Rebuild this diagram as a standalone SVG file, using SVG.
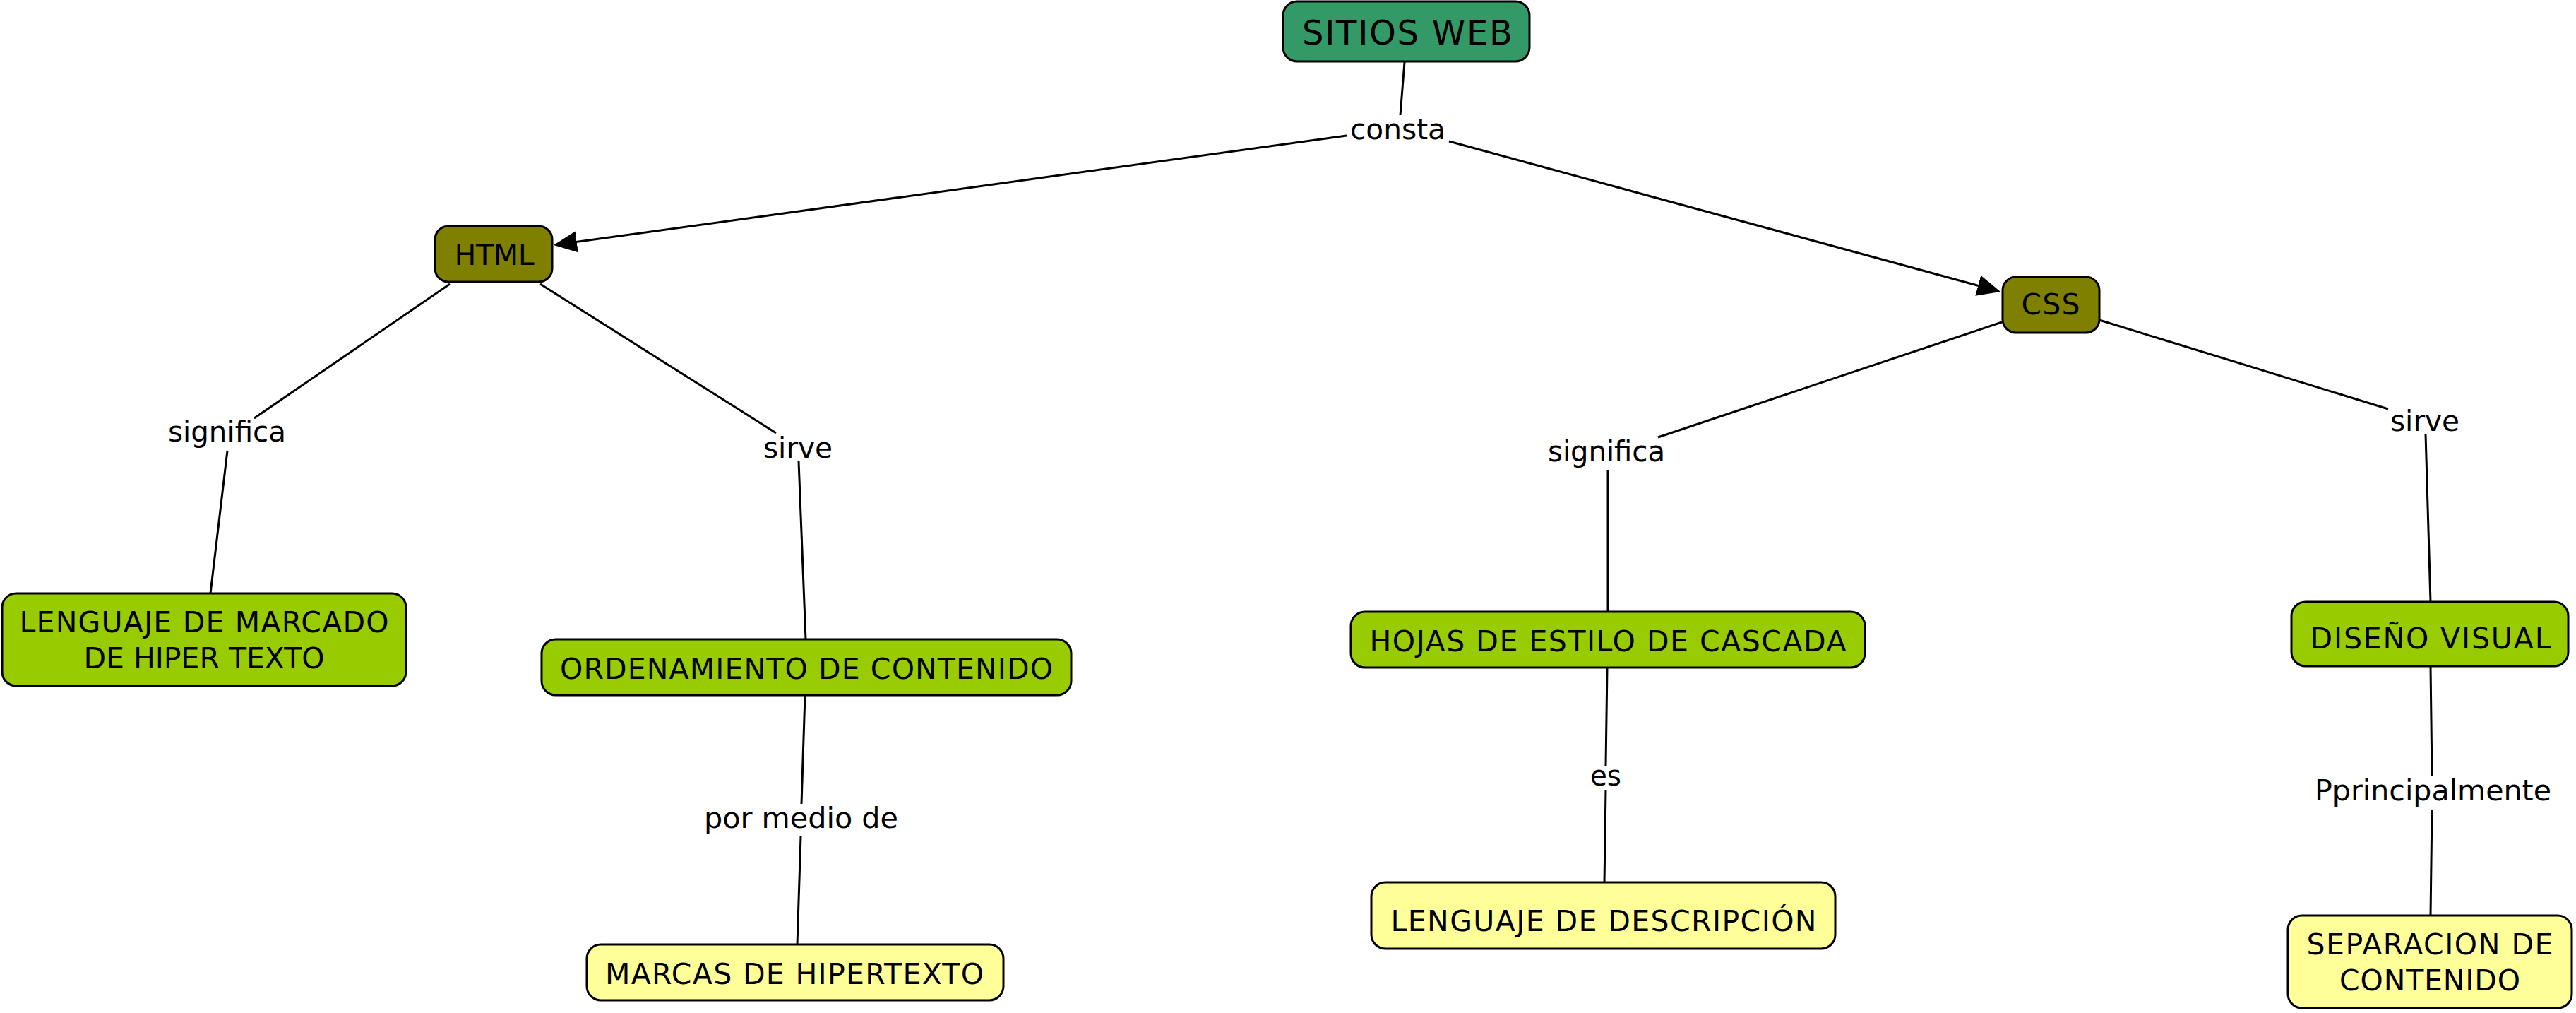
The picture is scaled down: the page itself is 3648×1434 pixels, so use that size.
<svg xmlns="http://www.w3.org/2000/svg" width="3648" height="1434" viewBox="0 0 3648 1434">
  <style>
    .node rect { stroke: #000; stroke-width: 3; }
    .root { fill: #339966; }
    .olive { fill: #808000; }
    .lime { fill: #99cc00; }
    .yellow { fill: #ffff99; }
    text { font-family: "DejaVu Sans", Verdana, sans-serif; fill: #000; text-anchor: middle; }
    .nt { font-size: 41px; }
    .title { font-size: 48px; }
    .lbl { font-size: 41px; }
    .conn line { stroke: #000; stroke-width: 3; fill: none; }
  </style>
  <defs>
    <marker id="arrow" markerUnits="userSpaceOnUse" markerWidth="34" markerHeight="32" refX="23" refY="15" orient="auto">
      <path d="M0,0 L33,15 L0,30 Z" fill="#000"/>
    </marker>
  </defs>
  <rect width="3648" height="1434" fill="#fff"/>

  <g id="connectors" class="conn">
    <line x1="1989" y1="88" x2="1983" y2="163"/>
    <line x1="1907" y1="192" x2="793.9" y2="345.6" marker-end="url(#arrow)"/>
    <line x1="2052" y1="200" x2="2823.4" y2="410.4" marker-end="url(#arrow)"/>
    <line x1="637" y1="402" x2="360" y2="592"/>
    <line x1="322" y1="638" x2="298" y2="840"/>
    <line x1="765" y1="402" x2="1099" y2="613"/>
    <line x1="1131" y1="653" x2="1141" y2="905"/>
    <line x1="1140" y1="984" x2="1135" y2="1138"/>
    <line x1="1134" y1="1184" x2="1129" y2="1337"/>
    <line x1="2835" y1="456" x2="2348" y2="619"/>
    <line x1="2277" y1="666" x2="2277" y2="866"/>
    <line x1="2276" y1="945" x2="2274" y2="1084"/>
    <line x1="2274" y1="1118" x2="2272" y2="1249"/>
    <line x1="2973" y1="453" x2="3382" y2="579"/>
    <line x1="3435" y1="614" x2="3442" y2="852"/>
    <line x1="3442" y1="943" x2="3444" y2="1099"/>
    <line x1="3444" y1="1146" x2="3442" y2="1296"/>
  </g>

  <g id="labels">
    <text class="lbl" x="1979.5" y="197" textLength="135" lengthAdjust="spacingAndGlyphs">consta</text>
    <text class="lbl" x="321.5" y="625" textLength="167" lengthAdjust="spacingAndGlyphs">significa</text>
    <text class="lbl" x="1130" y="648" textLength="98" lengthAdjust="spacingAndGlyphs">sirve</text>
    <text class="lbl" x="1134.5" y="1172" textLength="275" lengthAdjust="spacingAndGlyphs">por medio de</text>
    <text class="lbl" x="2275" y="653" textLength="166" lengthAdjust="spacingAndGlyphs">significa</text>
    <text class="lbl" x="2274" y="1112" textLength="44" lengthAdjust="spacingAndGlyphs">es</text>
    <text class="lbl" x="3434" y="610" textLength="98" lengthAdjust="spacingAndGlyphs">sirve</text>
    <text class="lbl" x="3445.5" y="1133" textLength="335" lengthAdjust="spacingAndGlyphs">Pprincipalmente</text>
  </g>

  <g id="node-sitios-web" class="node">
    <rect class="root" x="1817" y="2" width="349" height="85" rx="20" ry="20"/>
    <text class="title" x="1993" y="63" textLength="298" lengthAdjust="spacing">SITIOS WEB</text>
  </g>
  <g id="node-html" class="node">
    <rect class="olive" x="616" y="320" width="166" height="79" rx="19" ry="19"/>
    <text class="nt" x="700" y="375" textLength="113" lengthAdjust="spacing">HTML</text>
  </g>
  <g id="node-css" class="node">
    <rect class="olive" x="2836" y="392" width="137" height="79" rx="19" ry="19"/>
    <text class="nt" x="2904" y="445" textLength="83" lengthAdjust="spacing">CSS</text>
  </g>
  <g id="node-lenguaje-marcado" class="node">
    <rect class="lime" x="3" y="840" width="572" height="131" rx="20" ry="20"/>
    <text class="nt" x="289" y="895" textLength="523" lengthAdjust="spacing">LENGUAJE DE MARCADO</text>
    <text class="nt" x="289" y="946" textLength="341" lengthAdjust="spacing">DE HIPER TEXTO</text>
  </g>
  <g id="node-ordenamiento" class="node">
    <rect class="lime" x="767" y="905" width="750" height="79" rx="20" ry="20"/>
    <text class="nt" x="1142" y="961" textLength="698" lengthAdjust="spacing">ORDENAMIENTO DE CONTENIDO</text>
  </g>
  <g id="node-marcas" class="node">
    <rect class="yellow" x="831" y="1337" width="590" height="79" rx="20" ry="20"/>
    <text class="nt" x="1125" y="1393" textLength="536" lengthAdjust="spacing">MARCAS DE HIPERTEXTO</text>
  </g>
  <g id="node-hojas" class="node">
    <rect class="lime" x="1913" y="866" width="728" height="79" rx="20" ry="20"/>
    <text class="nt" x="2277" y="922" textLength="675" lengthAdjust="spacing">HOJAS DE ESTILO DE CASCADA</text>
  </g>
  <g id="node-lenguaje-descripcion" class="node">
    <rect class="yellow" x="1942" y="1249" width="657" height="94" rx="20" ry="20"/>
    <text class="nt" x="2271" y="1318" textLength="603" lengthAdjust="spacing">LENGUAJE DE DESCRIPCIÓN</text>
  </g>
  <g id="node-diseno" class="node">
    <rect class="lime" x="3245" y="852" width="392" height="91" rx="20" ry="20"/>
    <text class="nt" x="3442" y="918" textLength="341" lengthAdjust="spacing">DISEÑO VISUAL</text>
  </g>
  <g id="node-separacion" class="node">
    <rect class="yellow" x="3240" y="1296" width="402" height="131" rx="20" ry="20"/>
    <text class="nt" x="3441" y="1351" textLength="349" lengthAdjust="spacing">SEPARACION DE</text>
    <text class="nt" x="3441" y="1402" textLength="256" lengthAdjust="spacing">CONTENIDO</text>
  </g>
</svg>
